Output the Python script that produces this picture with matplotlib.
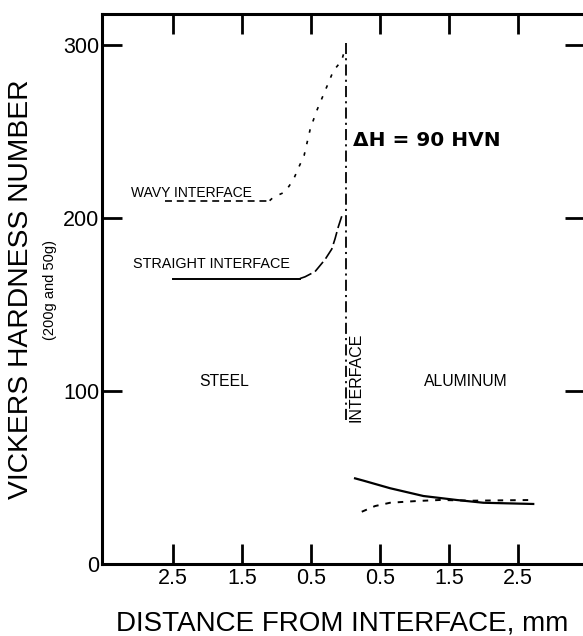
import matplotlib
matplotlib.use("Agg")
import matplotlib.pyplot as plt

plt.rcParams["font.family"] = ["Liberation Sans", "DejaVu Sans"]
plt.rcParams["lines.scale_dashes"] = False

# Distance from the interface in mm (steel side negative), hardness in HVN
wavy_flat_x = [-2.62, -1.10]
wavy_flat_h = [210, 210]
wavy_rise_x = [-1.10, -1.046, -0.877, -0.757, -0.670, -0.601, -0.514, -0.428,
               -0.249, -0.177, -0.055, 0.0]
wavy_rise_h = [210, 212, 215, 222, 230, 236, 251, 261, 278, 285, 291, 299]

straight_flat_x = [-2.50, -0.66]
straight_flat_h = [165, 165]
straight_rise_x = [-0.66, -0.587, -0.442, -0.297, -0.200, -0.152, -0.104, -0.055]
straight_rise_h = [165, 166, 169, 176, 182, 188, 195, 201]

al_straight_x = [0.138, 0.258, 0.645, 1.128, 1.610, 1.997, 2.720]
al_straight_h = [49.5, 48.2, 43.8, 39.3, 37.0, 35.4, 34.7]

al_wavy_x = [0.235, 0.428, 0.645, 1.030, 1.370, 1.850, 2.720]
al_wavy_h = [30.2, 33.5, 35.4, 36.4, 37.0, 36.6, 37.0]

interface_h = [83, 301]

x_tick_pos = [-2.5, -1.5, -0.5, 0.5, 1.5, 2.5]
x_tick_labels = ["2.5", "1.5", "0.5", "0.5", "1.5", "2.5"]
y_tick_pos = [0, 100, 200, 300]
y_tick_labels = ["0", "100", "200", "300"]

W, H = 583, 636
fig = plt.figure(figsize=(W / 100, H / 100), dpi=100)
ax = fig.add_axes([102 / W, (H - 564) / H, (585 - 102) / W, (564 - 14) / H])
ax.set_xlim(-3.529, 3.47)
ax.set_ylim(0, 317.9)

for s in ax.spines.values():
    s.set_linewidth(2.2)
    s.set_color("black")

ax.set_xticks(x_tick_pos)
ax.set_xticklabels(x_tick_labels)
ax.set_yticks(y_tick_pos)
ax.set_yticklabels(y_tick_labels)
ax.tick_params(axis="both", direction="in", length=14.5, width=2.0,
               top=True, right=True, labeltop=False, labelright=False,
               labelsize=15.5, color="black")
ax.tick_params(axis="x", pad=3)
ax.tick_params(axis="y", pad=2)

lw = 1.2
# Steel side, wavy interface
ax.plot(wavy_flat_x, wavy_flat_h, color="black", lw=lw, linestyle=(0, (5, 3.5)))
ax.plot(wavy_rise_x, wavy_rise_h, color="black", lw=lw, linestyle=(0, (2.5, 6)))
# Steel side, straight interface
ax.plot(straight_flat_x, straight_flat_h, color="black", lw=1.4, linestyle="-")
ax.plot(straight_rise_x, straight_rise_h, color="black", lw=lw, linestyle=(0, (9, 3)))
# Aluminum side
ax.plot(al_straight_x, al_straight_h, color="black", lw=1.6, linestyle="-")
ax.plot(al_wavy_x, al_wavy_h, color="black", lw=1.4, linestyle=(0, (4, 5)))
# Interface line
ax.plot([0, 0], interface_h, color="black", lw=1.3, linestyle=(0, (8, 3, 1.5, 3)))

ax.text(0.109, 241.6, "ΔH = 90 HVN", family="DejaVu Sans", fontweight="bold",
        fontsize=14.5, ha="left", va="baseline")
ax.text(-3.109, 212.1, "WAVY INTERFACE", fontsize=10, ha="left", va="baseline")
ax.text(-3.08, 171.1, "STRAIGHT INTERFACE", fontsize=10.4, ha="left", va="baseline")
ax.text(-2.123, 102.9, "STEEL", fontsize=11.3, ha="left", va="baseline")
ax.text(1.138, 102.9, "ALUMINUM", fontsize=11.3, ha="left", va="baseline")
ax.text(0.152, 107.8, "INTERFACE", fontsize=11.5, rotation=90,
        ha="center", va="center")

fig.text(21.5 / W, (H - 289) / H, "VICKERS HARDNESS NUMBER", rotation=90,
         fontsize=20.3, ha="center", va="center")
fig.text(50 / W, (H - 290) / H, "(200g and 50g)", rotation=90,
         fontsize=10.5, ha="center", va="center")
fig.text(342 / W, (H - 630) / H, "DISTANCE FROM INTERFACE, mm",
         fontsize=20.0, ha="center", va="baseline")

fig.savefig("out.png", dpi=100)
